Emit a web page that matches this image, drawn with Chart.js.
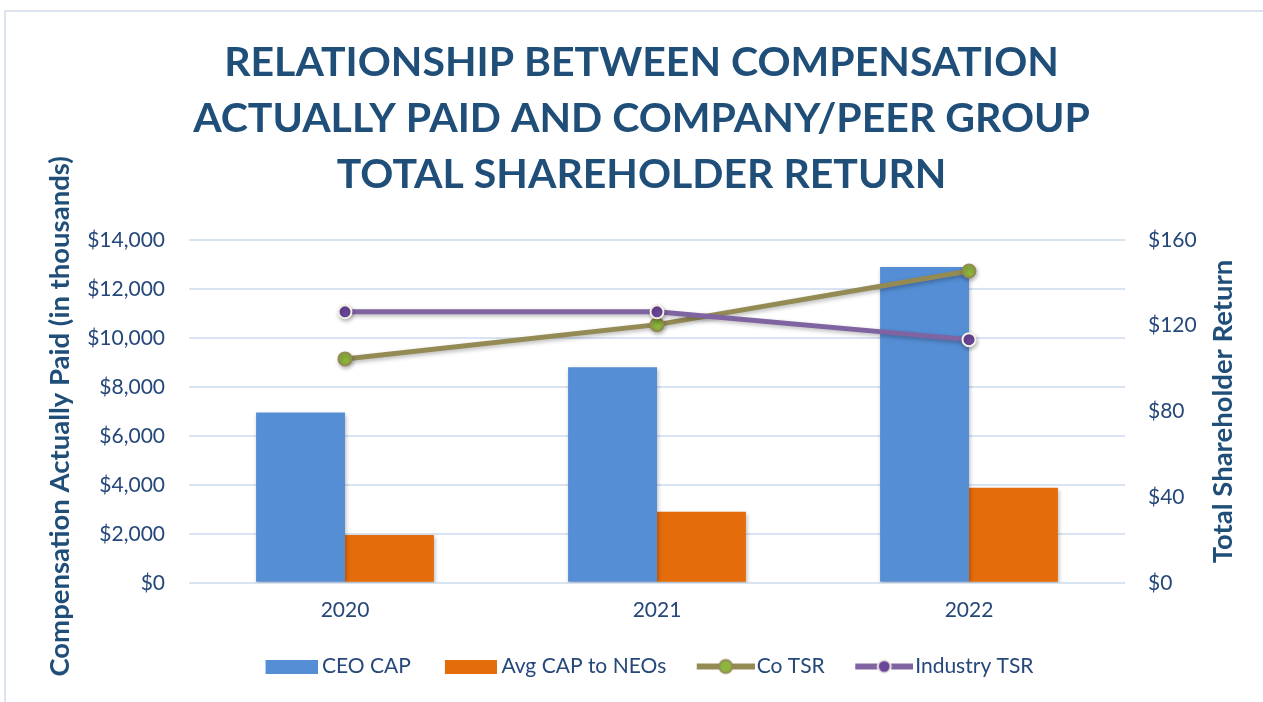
<!DOCTYPE html>
<html>
<head>
<meta charset="utf-8">
<title>CAP vs TSR</title>
<script src="https://cdn.jsdelivr.net/npm/chart.js@4.4.1/dist/chart.umd.min.js"></script>
<style>
    html, body { margin: 0; padding: 0; background: #fff; }
    .frame { position: relative; width: 1263px; height: 702px; overflow: hidden; }
    .frame::before {
        content: ""; position: absolute; left: 4px; top: 10px; right: -4px; bottom: -4px;
        border: 2px solid #DCE4F0;
    }
    .frame canvas { position: absolute; left: 0; top: 0; }
</style>
</head>
<body>
<div class="frame"><canvas id="cap" width="1263" height="702"></canvas></div>
<script>
/* Compensation actually paid vs. company / peer TSR */

const YEARS = ["2020", "2021", "2022"];
const CEO_CAP = [6950, 8800, 12900];          // $ thousands
const AVG_NEO_CAP = [1950, 2900, 3880];       // $ thousands
const CO_TSR = [104.5, 120.5, 145.5];
const INDUSTRY_TSR = [126.5, 126.5, 113.5];

const TITLE_LINES = [
    "RELATIONSHIP BETWEEN COMPENSATION",
    "ACTUALLY PAID AND COMPANY/PEER GROUP",
    "TOTAL SHAREHOLDER RETURN",
];
const LEFT_TITLE = "Compensation Actually Paid (in thousands)";
const RIGHT_TITLE = "Total Shareholder Return";

const COLORS = {
    navy: "#1F4E79",
    tick: "#25477A",
    grid: "#D9E4F3",
    ceo: "#558ED5",
    neo: "#E46C0A",
    coLine: "#948A54",
    coDot: "#8CB63C",
    indLine: "#8064A2",
    indDot: "#6A4698",
    indRing: "#F3F0E6",
};
const FONT = "Lato, 'Open Sans', sans-serif";

// legend markers are drawn into small canvases; the blank margin on the
// left pushes the marker right so it sits next to its label
function markerCanvas(w, h, shift, draw) {
    const cv = document.createElement("canvas");
    cv.width = w + 2 * shift; cv.height = h;
    const g = cv.getContext("2d");
    g.translate(2 * shift, 0);
    draw(g, w, h);
    return cv;
}
function swatch(color) {
    return markerCanvas(52, 14, 11, (g, w, h) => {
        g.fillStyle = color;
        g.fillRect(0, 0, w, h);
    });
}
function lineMarker(line, dot, ring) {
    return markerCanvas(58, 18, 10.5, (g, w, h) => {
        g.strokeStyle = line; g.lineWidth = 6;
        g.beginPath(); g.moveTo(0, h / 2); g.lineTo(w, h / 2); g.stroke();
        g.beginPath(); g.arc(w / 2, h / 2, 6.5, 0, Math.PI * 2);
        g.fillStyle = dot; g.fill();
        g.lineWidth = 2; g.strokeStyle = ring; g.stroke();
    });
}
const MARKERS = [
    swatch(COLORS.ceo),
    swatch(COLORS.neo),
    lineMarker(COLORS.coLine, COLORS.coDot, COLORS.coLine),
    lineMarker(COLORS.indLine, COLORS.indDot, COLORS.indRing),
];

const money = (v) => "$" + Number(v).toLocaleString("en-US");

// soft drop shadow under bars and lines
const shadow = {
    id: "shadow",
    beforeDatasetDraw(chart) {
        const ctx = chart.ctx;
        ctx.save();
        ctx.shadowColor = "rgba(0,0,0,0.28)";
        ctx.shadowBlur = 4;
        ctx.shadowOffsetX = 1;
        ctx.shadowOffsetY = 2;
    },
    afterDatasetDraw(chart) { chart.ctx.restore(); },
};

// both axis titles read bottom-to-top
function sideTitle(ctx, text, x, y) {
    ctx.save();
    ctx.translate(x, y);
    ctx.rotate(-Math.PI / 2);
    ctx.font = "bold 27.5px " + FONT;
    ctx.fillStyle = COLORS.navy;
    ctx.textAlign = "center";
    ctx.textBaseline = "middle";
    ctx.fillText(text, 0, 0);
    ctx.restore();
}
const axisTitles = {
    id: "axisTitles",
    afterDraw(chart) {
        const { ctx, chartArea, scales } = chart;
        const mid = (chartArea.top + chartArea.bottom) / 2;
        sideTitle(ctx, LEFT_TITLE, scales.y.left + 20, mid + 5);
        sideTitle(ctx, RIGHT_TITLE, scales.y1.right - 20, mid);
    },
};

const lineDefaults = {
    type: "line",
    yAxisID: "y1",
    borderWidth: 5,
    pointRadius: 6.5,
    pointHoverRadius: 6.5,
    pointBorderWidth: 2,
    tension: 0,
    fill: false,
};

new Chart(document.getElementById("cap"), {
    type: "bar",
    data: {
        labels: YEARS,
        datasets: [
            { label: "CEO CAP", data: CEO_CAP, backgroundColor: COLORS.ceo, yAxisID: "y", order: 2,
              categoryPercentage: 0.57, barPercentage: 1 },
            { label: "Avg CAP to NEOs", data: AVG_NEO_CAP, backgroundColor: COLORS.neo, yAxisID: "y", order: 3,
              categoryPercentage: 0.57, barPercentage: 1 },
            { ...lineDefaults, label: "Co TSR", data: CO_TSR, order: 1,
              borderColor: COLORS.coLine, pointBackgroundColor: COLORS.coDot, pointBorderColor: COLORS.coLine },
            { ...lineDefaults, label: "Industry TSR", data: INDUSTRY_TSR, order: 0,
              borderColor: COLORS.indLine, pointBackgroundColor: COLORS.indDot, pointBorderColor: COLORS.indRing },
        ],
    },
    options: {
        responsive: false,
        animation: false,
        layout: { padding: { left: 40, right: 20, top: 0, bottom: 15 } },
        plugins: {
            title: {
                display: true,
                text: TITLE_LINES,
                color: COLORS.navy,
                font: { family: FONT, size: 41, weight: "bold", lineHeight: "56px" },
                padding: { top: 35, bottom: 37 },
            },
            legend: {
                position: "bottom",
                labels: {
                    usePointStyle: true,
                    pointStyleWidth: 62,
                    padding: 18,
                    color: COLORS.tick,
                    font: { family: FONT, size: 21 },
                    generateLabels: (chart) => chart.data.datasets.map((ds, i) => ({
                        text: ds.label,
                        pointStyle: MARKERS[i],
                        fillStyle: "transparent",
                        strokeStyle: "transparent",
                        lineWidth: 0,
                        fontColor: COLORS.tick,
                        hidden: false,
                        datasetIndex: i,
                    })),
                },
            },
            tooltip: { enabled: false },
        },
        scales: {
            x: {
                grid: { display: false, drawTicks: false },
                border: { display: false },
                ticks: { color: COLORS.tick, font: { family: FONT, size: 21 }, padding: 15 },
            },
            y: {
                position: "left",
                min: 0, max: 14000,
                ticks: { stepSize: 2000, callback: money, color: COLORS.tick,
                         font: { family: FONT, size: 21 }, padding: 24 },
                grid: { color: COLORS.grid, lineWidth: 2, drawTicks: false },
                border: { display: false },
                afterFit: (s) => { s.width = 189 - 40; },
            },
            y1: {
                position: "right",
                min: 0, max: 160,
                ticks: { stepSize: 40, callback: money, color: COLORS.tick,
                         font: { family: FONT, size: 21 }, padding: 23 },
                grid: { drawOnChartArea: false, drawTicks: false },
                border: { display: false },
                afterFit: (s) => { s.width = 1263 - 1125 - 20; },
            },
        },
    },
    plugins: [shadow, axisTitles],
});
</script>
</body>
</html>
